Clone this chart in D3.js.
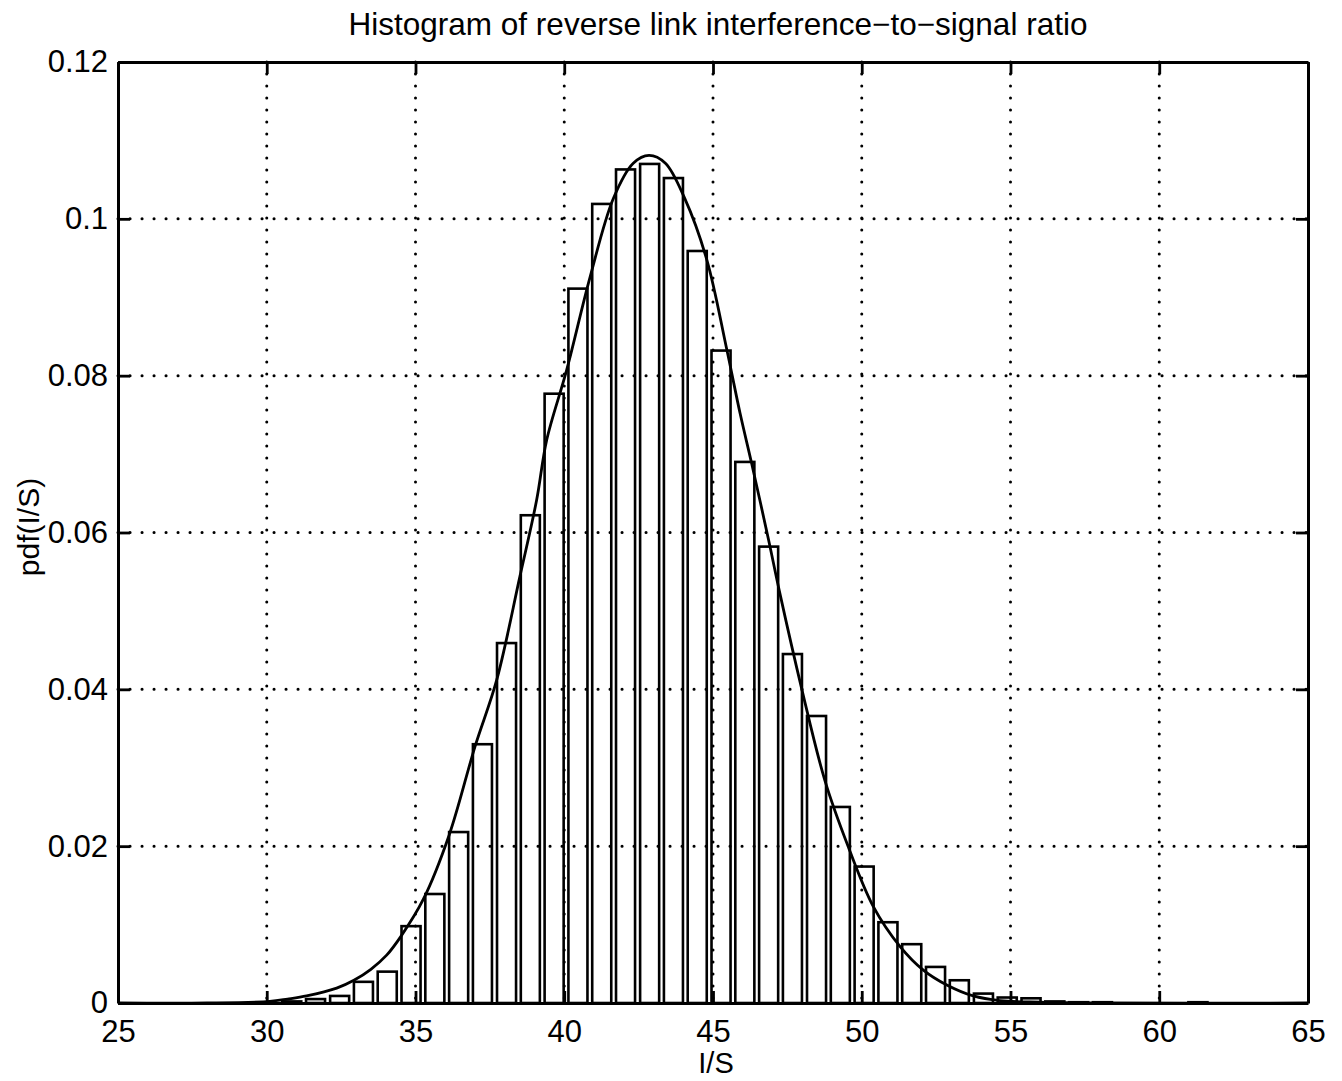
<!DOCTYPE html>
<html>
<head>
<meta charset="utf-8">
<script src="https://cdn.jsdelivr.net/npm/d3@7/dist/d3.min.js"></script>
<style>
  html, body { margin: 0; padding: 0; background: #fff; }
  svg { display: block; }
  text { font-family: "Liberation Sans", Arial, Helvetica, sans-serif; fill: #000; }
</style>
</head>
<body>
<svg id="chart" width="1342" height="1081"></svg>
<script>
// ---- data ----
const binCenters = [30.04, 30.84, 31.64, 32.45, 33.25, 34.05, 34.85, 35.65, 36.45, 37.25,
                    38.06, 38.86, 39.66, 40.46, 41.26, 42.06, 42.87, 43.67, 44.47, 45.27,
                    46.07, 46.87, 47.67, 48.48, 49.28, 50.08, 50.88, 51.68, 52.48, 53.28,
                    54.09, 54.89, 55.69, 56.49, 57.29, 58.09, 58.89, 59.69, 60.50, 61.30];
const binValues  = [0.0000, 0.0002, 0.0005, 0.0009, 0.0027, 0.0040, 0.0098, 0.0139, 0.0218, 0.0330,
                    0.0459, 0.0622, 0.0777, 0.0911, 0.1019, 0.1063, 0.1070, 0.1052, 0.0959, 0.0832,
                    0.0690, 0.0582, 0.0445, 0.0366, 0.0250, 0.0174, 0.0103, 0.0075, 0.0046, 0.0029,
                    0.0012, 0.0007, 0.0006, 0.0002, 0.0001, 0.0001, 0.0000, 0.0000, 0.0000, 0.0001];

const fitX = [25, 28, 30.1, 30.7, 31.34, 32.35, 32.93, 33.5, 34.03, 34.51, 35.26, 36.13, 37.0, 37.73,
              38.51, 39.07, 39.41, 40.08, 40.87, 41.65, 42.32, 42.85, 43.4, 44.05, 44.79, 45.46,
              45.91, 46.3, 46.86, 47.25, 47.98, 48.76, 49.55, 50.39, 51.29, 52.07, 52.86, 53.75,
              54.65, 56.0, 58.0, 65];
const fitY = [0, 0, 0.0002, 0.0005, 0.0009, 0.0019, 0.0029, 0.0043, 0.0061, 0.0085, 0.0132, 0.0214, 0.0327, 0.0412,
              0.0544, 0.0641, 0.0718, 0.0807, 0.0926, 0.1026, 0.1071, 0.1081, 0.1071, 0.1026, 0.0948, 0.0834,
              0.0752, 0.0688, 0.0592, 0.0522, 0.0401, 0.0284, 0.0199, 0.0123, 0.0072, 0.0042, 0.0023, 0.0009,
              0.0003, 0.0001, 0, 0];

const xTicks = [25, 30, 35, 40, 45, 50, 55, 60, 65];
const xTickLabels = ["25", "30", "35", "40", "45", "50", "55", "60", "65"];
const yTicks = [0, 0.02, 0.04, 0.06, 0.08, 0.1, 0.12];
const yTickLabels = ["0", "0.02", "0.04", "0.06", "0.08", "0.1", "0.12"];

const titleText = "Histogram of reverse link interference\u2212to\u2212signal ratio";
const xLabel = "I/S";
const yLabel = "pdf(I/S)";

(function () {
// ---- layout ----
const pLeft = 118, pRight = 1308, pTop = 62, pBottom = 1003;
const svg = d3.select("#chart");
svg.append("rect").attr("width", 1342).attr("height", 1081).attr("fill", "#fff");

const x = d3.scaleLinear().domain([25, 65]).range([pLeft, pRight]);
const y = d3.scaleLinear().domain([0, 0.12]).range([pBottom, pTop]);

// bars (outline only)
const binStep = binCenters[1] - binCenters[0];
const barW = x(binCenters[0] + 0.8 * binStep) - x(binCenters[0]);
svg.append("g").selectAll("rect")
  .data(binCenters.map((c, i) => ({c, v: binValues[i]})))
  .join("rect")
  .attr("x", d => x(d.c) - barW / 2)
  .attr("y", d => y(d.v))
  .attr("width", barW)
  .attr("height", d => Math.max(0, y(0) - y(d.v)))
  .attr("fill", "none")
  .attr("stroke", "#000")
  .attr("stroke-width", 2.6);

// dotted grid
const grid = svg.append("g").attr("stroke", "#000").attr("stroke-width", 3)
  .attr("stroke-dasharray", "0.1,11.9").attr("stroke-linecap", "round");
grid.selectAll("line.v").data(xTicks.slice(1, -1)).join("line").attr("class", "v")
  .attr("x1", d => x(d)).attr("x2", d => x(d)).attr("y1", pTop).attr("y2", pBottom);
grid.selectAll("line.h").data(yTicks.slice(1, -1)).join("line").attr("class", "h")
  .attr("y1", d => y(d)).attr("y2", d => y(d)).attr("x1", pLeft).attr("x2", pRight);

// fitted curve
const line = d3.line().x(d => x(d[0])).y(d => y(d[1])).curve(d3.curveCatmullRom.alpha(0.5));
svg.append("path")
  .datum(fitX.map((v, i) => [v, fitY[i]]))
  .attr("d", line)
  .attr("fill", "none")
  .attr("stroke", "#000")
  .attr("stroke-width", 2.8);

// axes box with inward ticks (bottom/top/left/right)
const tickLen = 12;
const axB = d3.axisBottom(x).tickValues(xTicks).tickFormat((d, i) => xTickLabels[i]).tickSizeInner(-tickLen).tickSizeOuter(0).tickPadding(17);
const axT = d3.axisTop(x).tickValues(xTicks).tickFormat("").tickSizeInner(-tickLen).tickSizeOuter(0);
const axL = d3.axisLeft(y).tickValues(yTicks).tickFormat((d, i) => yTickLabels[i]).tickSizeInner(-tickLen).tickSizeOuter(0).tickPadding(10);
const axR = d3.axisRight(y).tickValues(yTicks).tickFormat("").tickSizeInner(-tickLen).tickSizeOuter(0);

function style(g) {
  g.selectAll(".domain").attr("stroke", "#000").attr("stroke-width", 3);
  g.selectAll(".tick line").attr("stroke", "#000").attr("stroke-width", 2.8);
  g.selectAll(".tick text").attr("font-size", 31).attr("fill", "#000")
    .attr("font-family", "'Liberation Sans', Arial, sans-serif");
}
svg.append("g").attr("transform", `translate(0,${pBottom})`).call(axB).call(style);
svg.append("g").attr("transform", `translate(0,${pTop})`).call(axT).call(style);
svg.append("g").attr("transform", `translate(${pLeft},0)`).call(axL).call(style);
svg.append("g").attr("transform", `translate(${pRight},0)`).call(axR).call(style);

// labels
svg.append("text").attr("x", 718).attr("y", 35)
  .attr("text-anchor", "middle").attr("font-size", 31.5).text(titleText);
svg.append("text").attr("x", 716).attr("y", 1073)
  .attr("text-anchor", "middle").attr("font-size", 29).text(xLabel);
svg.append("text").attr("transform", `translate(39,527) rotate(-90)`)
  .attr("text-anchor", "middle").attr("font-size", 30).text(yLabel);
})();
</script>
</body>
</html>
